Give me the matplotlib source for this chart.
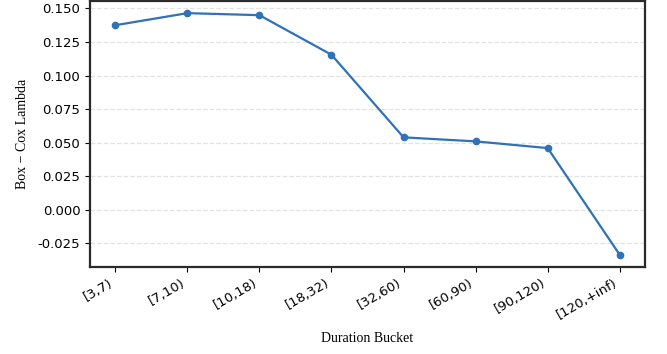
import matplotlib
matplotlib.use("Agg")
import matplotlib.pyplot as plt

# Lambda de Box-Cox estimado por cada bucket de duración
buckets = ['[3,7)', '[7,10)', '[10,18)', '[18,32)', '[32,60)', '[60,90)', '[90,120)', '[120,+inf)']
lambdas = [0.1375, 0.1465, 0.1450, 0.1155, 0.0540, 0.0510, 0.0460, -0.0335]

fig, ax = plt.subplots(figsize=(6.67, 3.54), dpi=100)
fig.subplots_adjust(left=0.135, right=0.967, bottom=0.246, top=0.997)

x = range(len(buckets))
ax.plot(x, lambdas, color='#2f72b8', marker='o', markersize=4.5, linewidth=1.6)

ax.set_xticks(list(x))
ax.set_xticklabels(buckets, rotation=30, ha='right', fontsize=9.5)
ax.tick_params(axis='y', labelsize=9.5)
ax.set_yticks([-0.025, 0.0, 0.025, 0.05, 0.075, 0.1, 0.125, 0.15])
ax.yaxis.set_major_formatter(matplotlib.ticker.FuncFormatter(lambda v, p: f'{v:.3f}'))
ax.set_ylim(-0.0425, 0.1555)

ax.grid(axis='y', linestyle='--', color='#e3e3e3', linewidth=0.9)
ax.set_axisbelow(True)
for s in ax.spines.values():
    s.set_linewidth(1.6)
    s.set_color('#2a2a2a')

ax.set_xlabel('Duration Bucket', family='Liberation Serif', fontsize=10, labelpad=7)
ax.set_ylabel('Box \u2212 Cox Lambda', family='Liberation Serif', fontsize=10, labelpad=6)

fig.savefig('out.png', dpi=100)
